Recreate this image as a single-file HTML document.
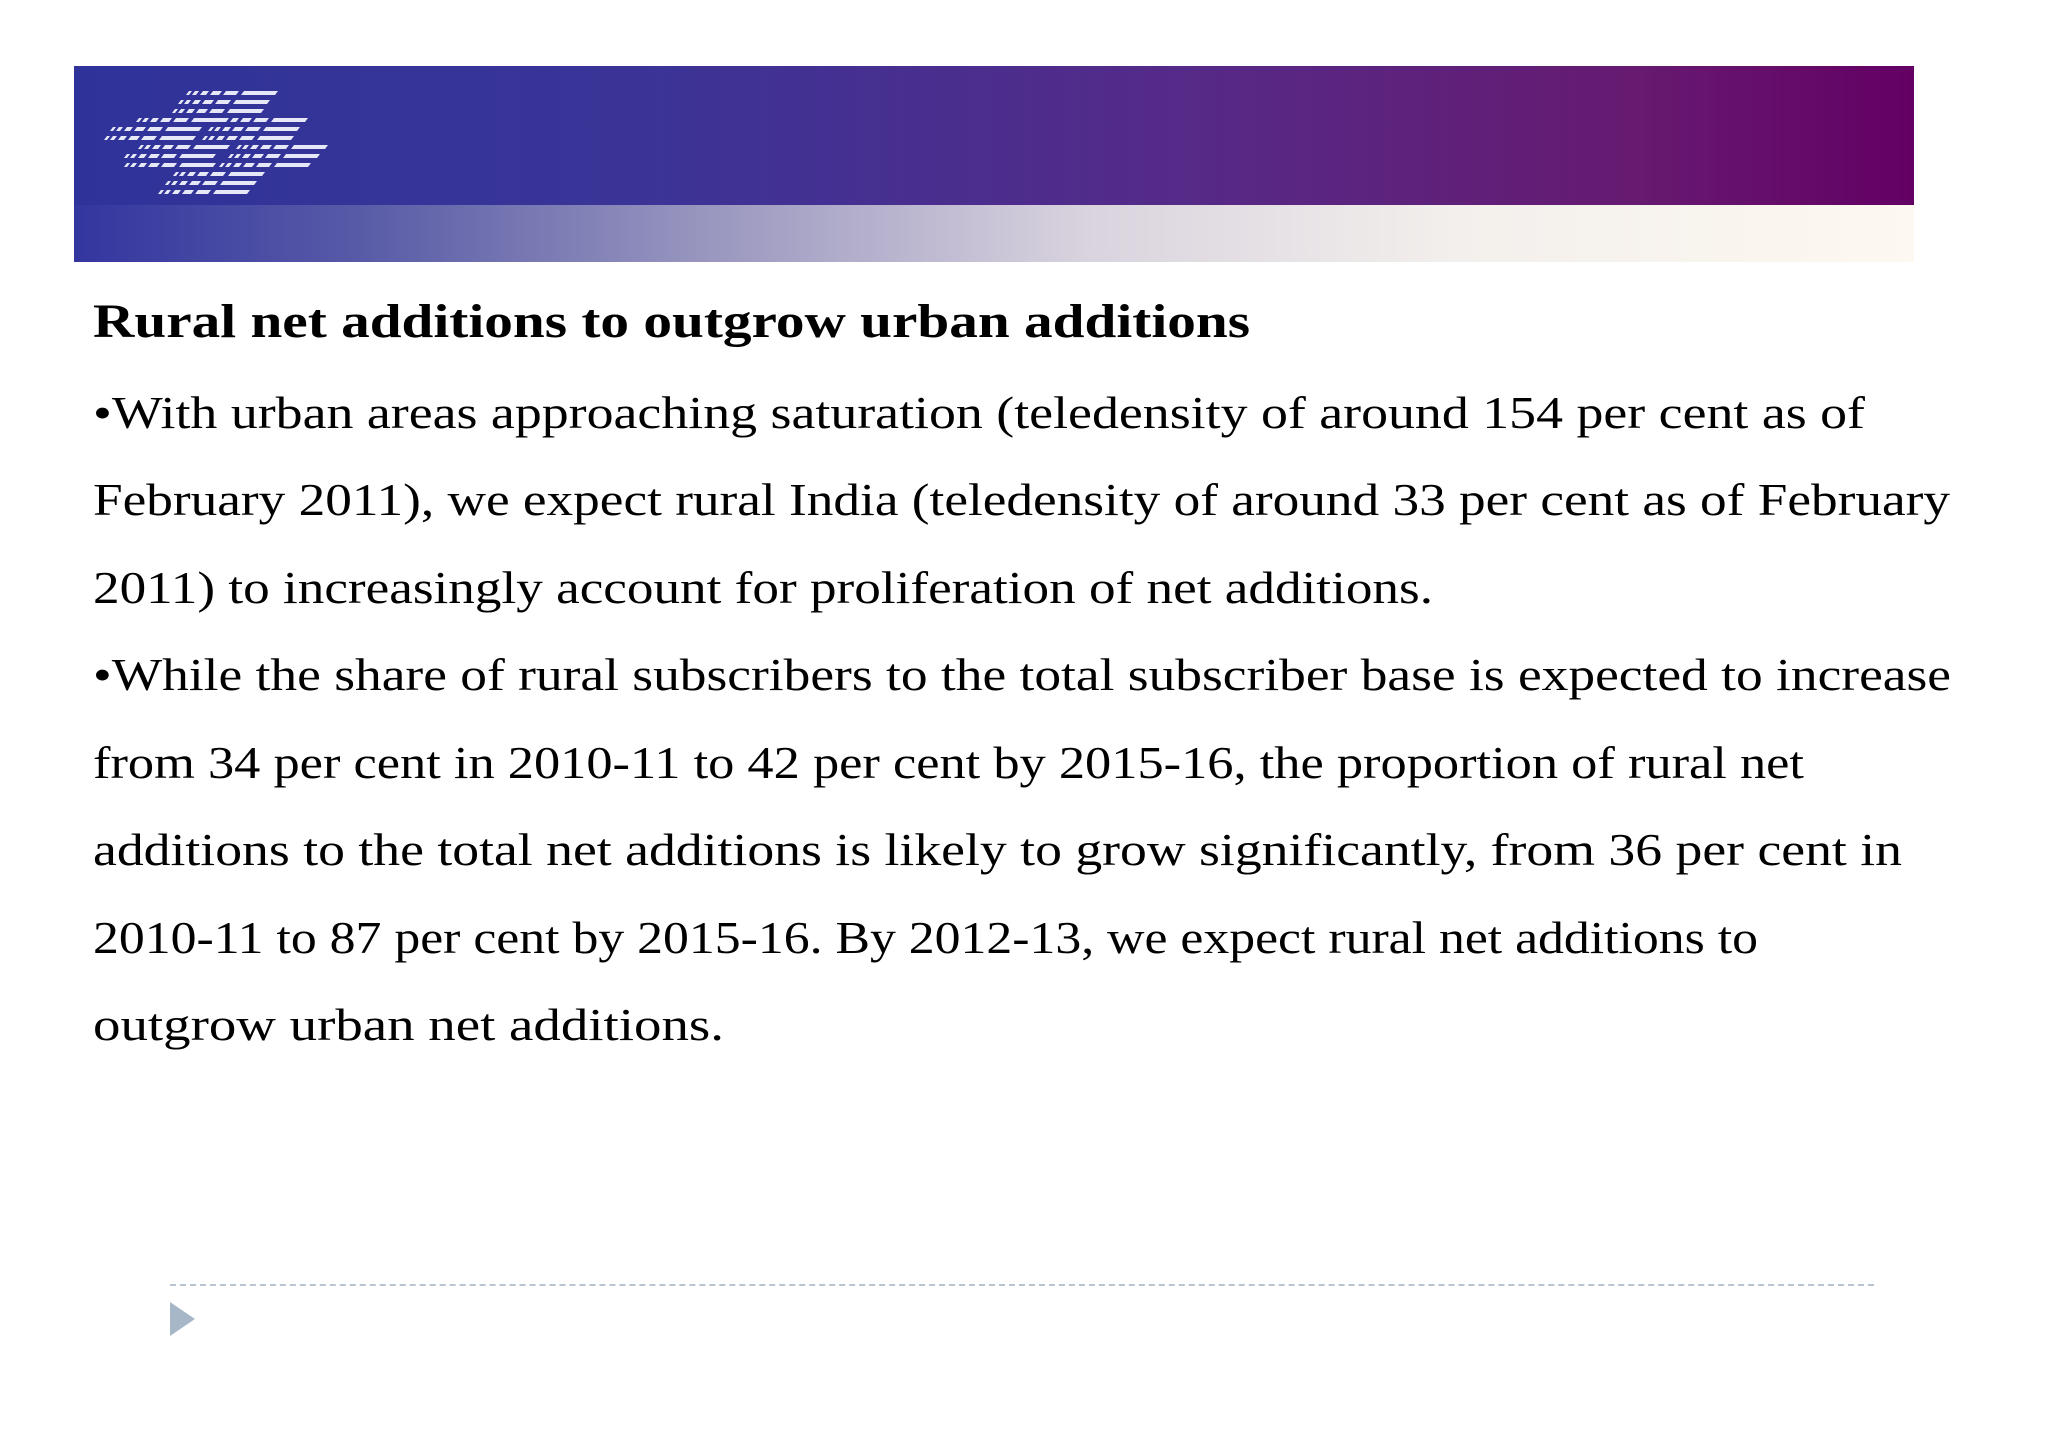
<!DOCTYPE html>
<html><head><meta charset="utf-8">
<style>
body{margin:0;background:#fff;}
#page{position:relative;width:2048px;height:1448px;overflow:hidden;background:#fff;}
.banner-top{position:absolute;left:74px;top:66px;width:1840px;height:139px;background:linear-gradient(90deg,#2f3399 0%,#3a3497 30%,#552a88 60%,#661a70 85%,#640064 100%);}
.banner-bottom{position:absolute;left:74px;top:205px;width:1840px;height:57px;background:linear-gradient(90deg,#3436a0 0%,#5659a6 15%,#9b98c0 35%,#d9d3de 55%,#f3efec 75%,#fdf8f0 100%);}
.ln{position:absolute;left:93px;white-space:nowrap;font-family:"Liberation Serif",serif;color:#000;transform-origin:0 0;}
.body{font-size:46px;line-height:46px;}
.title{font-size:48px;line-height:48px;font-weight:bold;}
.dash{position:absolute;left:170px;top:1284px;width:1704px;border-top:2px dashed #b8c4cf;}
</style></head><body>
<div id="page">
<div class="banner-top"></div>
<div class="banner-bottom"></div>
<svg id="logo" style="position:absolute;left:0;top:0" width="400" height="260"></svg>
<div class="ln title" style="top:298px" data-w="1157">Rural net additions to outgrow urban additions</div>
<div class="ln body" style="top:389.5px" data-w="1772">•With urban areas approaching saturation (teledensity of around 154 per cent as of</div>
<div class="ln body" style="top:477px" data-w="1857">February 2011), we expect rural India (teledensity of around 33 per cent as of February</div>
<div class="ln body" style="top:564.5px" data-w="1340">2011) to increasingly account for proliferation of net additions.</div>
<div class="ln body" style="top:652px" data-w="1858">•While the share of rural subscribers to the total subscriber base is expected to increase</div>
<div class="ln body" style="top:739.5px" data-w="1711">from 34 per cent in 2010-11 to 42 per cent by 2015-16, the proportion of rural net</div>
<div class="ln body" style="top:827px" data-w="1809">additions to the total net additions is likely to grow significantly, from 36 per cent in</div>
<div class="ln body" style="top:914.5px" data-w="1665">2010-11 to 87 per cent by 2015-16. By 2012-13, we expect rural net additions to</div>
<div class="ln body" style="top:1002px" data-w="631">outgrow urban net additions.</div>
<div class="dash"></div>
<svg style="position:absolute;left:170px;top:1302px" width="26" height="34"><polygon points="0,0 25,17 0,34" fill="#a7b7c8"/></svg>
</div>
<script>
document.querySelectorAll('.ln').forEach(function(el){
  var w=el.getBoundingClientRect().width;
  var t=+el.getAttribute('data-w');
  el.style.transform='scaleX('+(t/w)+')';
});
// logo rows: [rightEndX, y]
var rows=[[275,91],[267,100],[261,109],[305,118],[297,127],[291,136],[225,118],[199,127],[193,136],[325,145],[317,154],[308,163],[227,145],[213,154],[213,163],[262,172],[254,181],[247,190]];
var svg=document.getElementById('logo');
var segs=[[0,3],[6,4],[14,6],[24,9],[37,13],[55,34]];
rows.forEach(function(r){
  var base=r[0]-89;
  segs.forEach(function(s){
    var x=base+s[0], w=s[1], y=r[1], h=4;
    var p=document.createElementNS('http://www.w3.org/2000/svg','polygon');
    p.setAttribute('points',(x+3)+','+y+' '+(x+w+3)+','+y+' '+(x+w)+','+(y+h)+' '+x+','+(y+h));
    p.setAttribute('fill','#e6e8f8');
    
    
    svg.appendChild(p);
  });
});
</script>
</body></html>
